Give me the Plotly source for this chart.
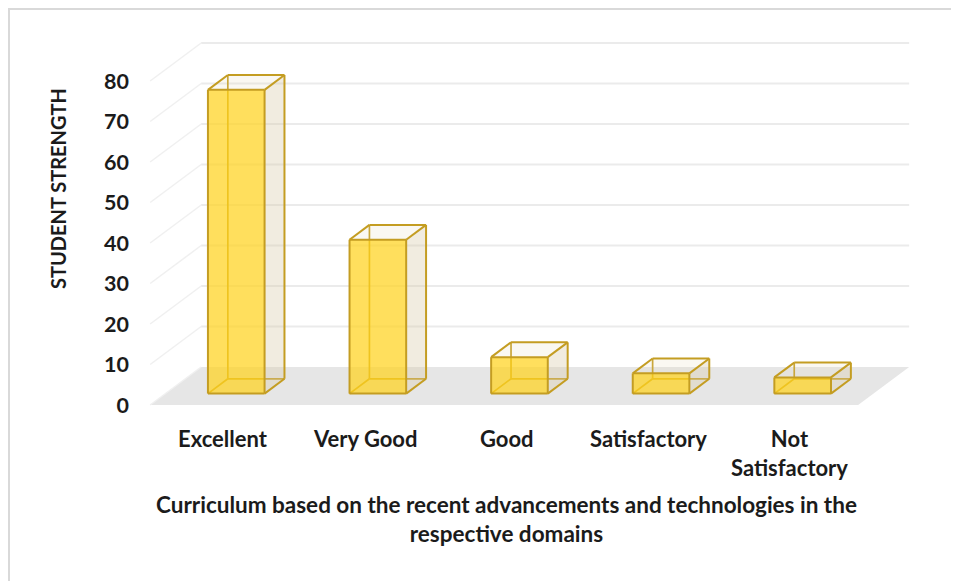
import plotly.graph_objects as go

# ---------------- data ----------------
categories = ["Excellent", "Very Good", "Good", "Satisfactory", "Not<br>Satisfactory"]
values = [75, 38, 9, 5, 4]
y_ticks = [0, 10, 20, 30, 40, 50, 60, 70, 80]
y_title = "STUDENT STRENGTH"
x_title = "Curriculum based on the recent advancements and technologies in the<br>respective domains"

# ---------------- geometry (in axis units) ----------------
DX = 51 / 141.6      # full floor depth, horizontal shift (x units)
DY = 38 / 4.05       # full floor depth, vertical shift (y units)
HALF_W = 0.2         # half bar width
F0, F1 = 0.30, 0.69  # bar depth span as fraction of floor depth
N = len(categories)

# plot area in screenshot pixels (page has an 8px body margin)
PL, PT, PW, PH = 136, 30, 786, 390
def px(X):
    return (X - PL) / PW
def py(Y):
    return (PT + PH - Y) / PH

def font(size):
    return dict(family="Lato, 'Open Sans', sans-serif", size=size, color="#1b1b1b", weight="bold")
EDGE = "#C49D22"

fig = go.Figure()

# floor
fx = [-0.5, N - 0.5, N - 0.5 + DX, -0.5 + DX, -0.5]
fy = [0, 0, DY, DY, 0]
fig.add_trace(go.Scatter(x=fx, y=fy, fill="toself", fillcolor="#E6E6E6",
                         mode="none", hoverinfo="skip", showlegend=False))

# back wall gridlines + side wall diagonals
gx, gy, sx, sy = [], [], [], []
for v in y_ticks[1:]:
    gx += [-0.5 + DX, N - 0.5 + DX, None]
    gy += [v + DY, v + DY, None]
for v in y_ticks:
    sx += [-0.5, -0.5 + DX, None]
    sy += [v, v + DY, None]
fig.add_trace(go.Scatter(x=gx, y=gy, mode="lines", line=dict(color="#EBEBEB", width=1.8),
                         hoverinfo="skip", showlegend=False))
fig.add_trace(go.Scatter(x=sx, y=sy, mode="lines", line=dict(color="#F0F0F0", width=1.5),
                         hoverinfo="skip", showlegend=False))

# bars as 3D boxes
hid_x, hid_y = [], []
right_x, right_y, top_x, top_y, front_x, front_y = [], [], [], [], [], []
vis_x, vis_y = [], []
for i, v in enumerate(values):
    a, c = i - HALF_W + F0 * DX, i + HALF_W + F0 * DX
    b = F0 * DY
    ddx, ddy = (F1 - F0) * DX, (F1 - F0) * DY
    t = v + b
    FBL, FBR, FTR, FTL = (a, b), (c, b), (c, t), (a, t)
    BBL, BBR, BTR, BTL = [(p[0] + ddx, p[1] + ddy) for p in (FBL, FBR, FTR, FTL)]
    for p, q in [(BBL, BBR), (BTL, BBL), (FBL, BBL)]:
        hid_x += [p[0], q[0], None]
        hid_y += [p[1], q[1], None]
    for poly, X, Y in [((FBR, BBR, BTR, FTR), right_x, right_y),
                       ((FTL, FTR, BTR, BTL), top_x, top_y),
                       ((FBL, FBR, FTR, FTL), front_x, front_y)]:
        X += [p[0] for p in poly] + [poly[0][0], None]
        Y += [p[1] for p in poly] + [poly[0][1], None]
    for p, q in [(FBL, FBR), (FBR, FTR), (FTR, FTL), (FTL, FBL),
                 (BBR, BTR), (BTR, BTL), (FBR, BBR), (FTL, BTL), (FTR, BTR)]:
        vis_x += [p[0], q[0], None]
        vis_y += [p[1], q[1], None]

fig.add_trace(go.Scatter(x=hid_x, y=hid_y, mode="lines", line=dict(color=EDGE, width=1.7),
                         hoverinfo="skip", showlegend=False))
fig.add_trace(go.Scatter(x=right_x, y=right_y, fill="toself", fillcolor="rgba(215,200,165,0.35)",
                         mode="none", hoverinfo="skip", showlegend=False))
fig.add_trace(go.Scatter(x=top_x, y=top_y, fill="toself", fillcolor="rgba(225,215,185,0.18)",
                         mode="none", hoverinfo="skip", showlegend=False))
fig.add_trace(go.Scatter(x=front_x, y=front_y, fill="toself", fillcolor="rgba(255,210,30,0.72)",
                         mode="none", hoverinfo="skip", showlegend=False))
fig.add_trace(go.Scatter(x=vis_x, y=vis_y, mode="lines", line=dict(color=EDGE, width=2),
                         hoverinfo="skip", showlegend=False))

# category labels (centred under the front edge of each floor slot)
for i, cat in enumerate(categories):
    fig.add_annotation(x=i, y=py(423), xref="x", yref="paper", text=cat, showarrow=False,
                       xanchor="center", yanchor="top", xshift=2.5, font=font(22), align="center")

# axis titles
fig.add_annotation(x=px(58), y=py(189), xref="paper", yref="paper", text=y_title,
                   textangle=-90, showarrow=False, font=font(20), xanchor="center", yanchor="middle")
fig.add_annotation(x=px(506), y=py(519), xref="paper", yref="paper",
                   text=x_title, showarrow=False, font=font(22.5), xanchor="center", yanchor="middle",
                   align="center")

# outer chart border (only top/left are inside the picture)
fig.add_shape(type="rect", xref="paper", yref="paper",
              x0=px(9), x1=px(990), y0=py(600), y1=py(9),
              line=dict(color="#D9D9D9", width=2), layer="below")

fig.update_layout(
    width=951, height=573,
    margin=dict(l=PL - 8, r=951 - (PL - 8) - PW, t=PT - 8, b=573 - (PT - 8) - PH),
    plot_bgcolor="white", paper_bgcolor="white",
    xaxis=dict(range=[-0.6, -0.6 + PW / 141.6], visible=False, fixedrange=True),
    yaxis=dict(range=[-15 / 4.05, -15 / 4.05 + PH / 4.05], tickvals=y_ticks,
               showgrid=False, zeroline=False, showline=False, ticks="",
               ticklabelstandoff=6, tickfont=font(21.5), fixedrange=True),
    showlegend=False,
)

fig.write_html("out.html")
